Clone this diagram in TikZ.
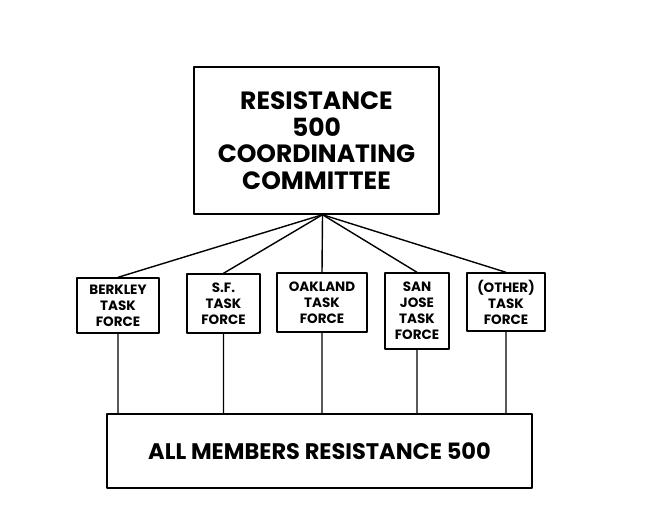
\documentclass[tikz,border=0pt]{standalone}
\usepackage{fontspec}
\setmainfont{Poppins}
\begin{document}
\begin{tikzpicture}[x=1pt,y=-1pt,line width=1.4pt,line join=round,line cap=round,
	box/.style={draw,align=center,inner sep=0pt,font=\bfseries\fontsize{13.5}{16}\selectfont}]
	\useasboundingbox[fill=white] (0,0) rectangle (652,528);
	\node[box,minimum width=245,minimum height=147,font=\bfseries\fontsize{25}{26.5}\selectfont] (top) at (316.5,140.5) {RESISTANCE\\500\\COORDINATING\\COMMITTEE};
	\node[box,minimum width=425,minimum height=74,font=\bfseries\fontsize{22.5}{25}\selectfont] (all) at (319.5,451) {ALL MEMBERS RESISTANCE 500};
	\foreach \n/\x/\y/\w/\h/\t in {berk/118/305.5/82/55/{BERKLEY\\TASK\\FORCE},sf/223.5/303.5/73/59/{S.F.\\TASK\\FORCE},oak/322/302.5/90/59/{OAKLAND\\TASK\\FORCE},sj/417/311/64/76/{SAN\\JOSE\\TASK\\FORCE},oth/506/302/78/58/{(OTHER)\\TASK\\FORCE}}
	\node[box,minimum width=\w,minimum height=\h] (\n) at (\x,\y) {\t};
	\coordinate (hub) at ([xshift=6]top.south);
	\foreach \n in {berk,sf,oak,sj,oth}
	\draw (hub)--(\n.north) (\n.south)--(\n.south|-all.north);
\end{tikzpicture}
\end{document}
